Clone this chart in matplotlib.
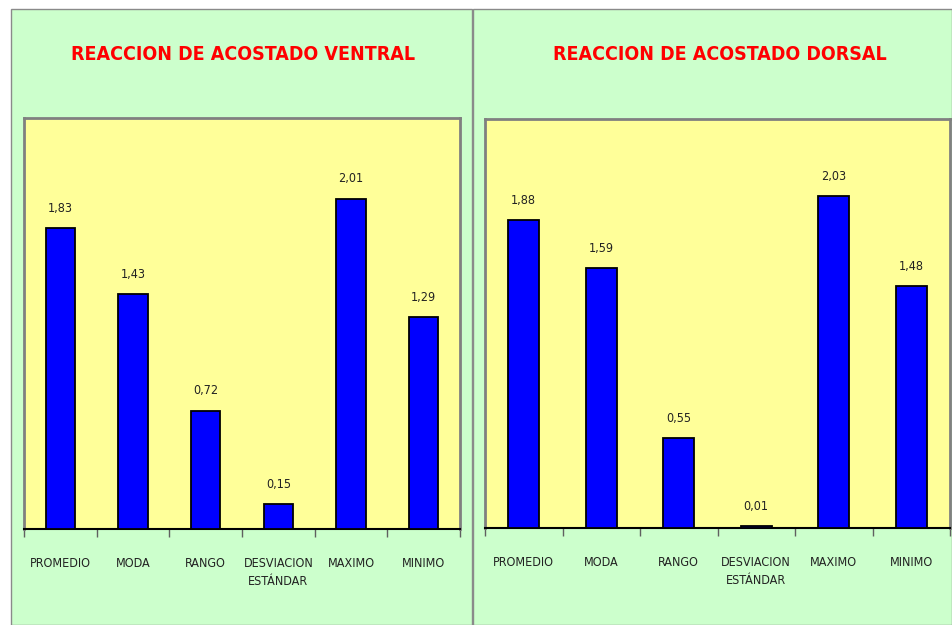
import matplotlib
matplotlib.use("Agg")
import matplotlib.pyplot as plt
from matplotlib.patches import Rectangle

categorias = ["PROMEDIO", "MODA", "RANGO", "DESVIACION\nESTÁNDAR", "MAXIMO", "MINIMO"]
ventral = [1.83, 1.43, 0.72, 0.15, 2.01, 1.29]
dorsal = [1.88, 1.59, 0.55, 0.01, 2.03, 1.48]
titulos = ["REACCION DE ACOSTADO VENTRAL", "REACCION DE ACOSTADO DORSAL"]

VERDE = "#CCFFCC"
AMARILLO = "#FFFF99"
AZUL = "#0000FF"
TEXTO = "#222222"
FUENTE = ["DejaVu Sans"]

W, H = 952, 625
fig = plt.figure(figsize=(W / 100, H / 100), dpi=100)
fig.patch.set_facecolor("white")

def px(x0, y0, x1, y1):
    # pixel box (top-left origin) -> figure fraction [left, bottom, width, height]
    return [x0 / W, 1 - y1 / H, (x1 - x0) / W, (y1 - y0) / H]

# fondo verde de cada panel
paneles = [(11, 9, 472, 625), (473, 9, 952, 625)]
for (x0, y0, x1, y1) in paneles:
    l, b, w, h = px(x0, y0, x1, y1)
    fig.add_artist(Rectangle((l, b), w, h, transform=fig.transFigure, zorder=-5,
                             facecolor=VERDE, edgecolor="#8a8a8a", lw=1.0))

ejes = [px(24, 118, 460, 529), px(485, 119, 950, 528)]
centros = [243, 720]

for pos, valores, titulo, cx in zip(ejes, [ventral, dorsal], titulos, centros):
    ax = fig.add_axes(pos)
    ax.set_facecolor(AMARILLO)
    xs = range(len(categorias))
    ax.bar(xs, valores, width=0.4, color=AZUL, edgecolor="black", linewidth=1.3, zorder=3)
    ax.set_xlim(-0.5, len(categorias) - 0.5)
    ax.set_ylim(0, 2.5)
    ax.set_yticks([])
    for s in ["top", "left", "right"]:
        ax.spines[s].set_color("#808080")
        ax.spines[s].set_linewidth(2)
    ax.spines["bottom"].set_color("black")
    ax.spines["bottom"].set_linewidth(1.5)
    # marcas entre categorias, etiquetas centradas
    ax.set_xticks([i - 0.5 for i in range(len(categorias) + 1)])
    ax.set_xticklabels([])
    ax.set_xticks(list(xs), minor=True)
    ax.set_xticklabels(categorias, minor=True, fontsize=9, color=TEXTO,
                       family=FUENTE, fontstretch="condensed", va="top", linespacing=1.5)
    ax.tick_params(axis="x", which="major", length=6, width=1, color="#606060")
    ax.tick_params(axis="x", which="minor", length=0, pad=20)
    for x, v in zip(xs, valores):
        ax.text(x, v + 0.08, f"{v:.2f}".replace(".", ","), ha="center", va="bottom",
                fontsize=9, color=TEXTO, family=FUENTE, fontstretch="condensed")
    fig.text(cx / W, 1 - 55 / H, titulo, ha="center", va="center", color="red",
             fontsize=14, fontweight="bold", family=FUENTE, fontstretch="condensed")

fig.savefig("out.png", dpi=100)
